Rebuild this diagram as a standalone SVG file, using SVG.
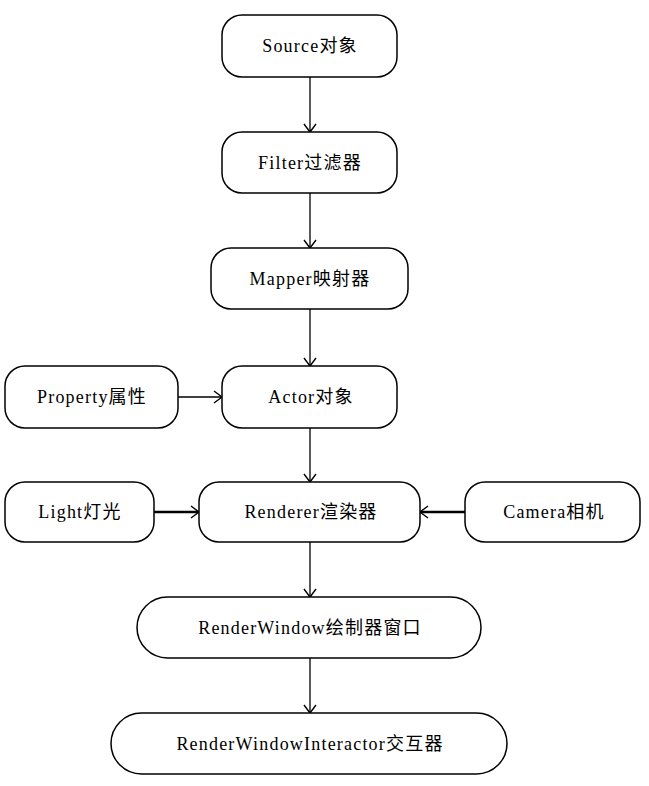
<svg xmlns="http://www.w3.org/2000/svg" width="649" height="786" viewBox="0 0 649 786">
<style>
.box{fill:#fff;stroke:#000;stroke-width:1.5}
.lbl{font-family:"Liberation Serif","Noto Sans CJK SC",serif;font-size:18px;letter-spacing:1.2px;fill:#000;text-anchor:middle}
.edge{stroke:#000;stroke-width:1.3;fill:none}
.thick{stroke-width:2.6}
</style>
<defs>
<marker id="ah" markerUnits="userSpaceOnUse" markerWidth="14" markerHeight="14" refX="10" refY="7" orient="auto">
<path d="M2,1 L10,7 L2,13" fill="none" stroke="#000" stroke-width="1.4"/>
</marker>
</defs>
<rect width="649" height="786" fill="#fff"/>
<g id="connectors">
<line class="edge" x1="310" y1="77" x2="310" y2="132" marker-end="url(#ah)"/>
<line class="edge" x1="310" y1="193" x2="310" y2="248" marker-end="url(#ah)"/>
<line class="edge" x1="310" y1="309" x2="310" y2="366" marker-end="url(#ah)"/>
<line class="edge" x1="178" y1="397" x2="222" y2="397" marker-end="url(#ah)"/>
<line class="edge" x1="310" y1="428" x2="310" y2="482" marker-end="url(#ah)"/>
<line class="edge thick" x1="154" y1="512" x2="199" y2="512" marker-end="url(#ah)"/>
<line class="edge thick" x1="465" y1="512" x2="420" y2="512" marker-end="url(#ah)"/>
<line class="edge" x1="310" y1="542" x2="310" y2="597" marker-end="url(#ah)"/>
<line class="edge" x1="310" y1="658" x2="310" y2="713" marker-end="url(#ah)"/>
</g>
<g id="source"><rect class="box" x="222" y="15" width="175" height="62" rx="20"/><text class="lbl" x="310" y="52">Source对象</text></g>
<g id="filter"><rect class="box" x="222" y="132" width="175" height="61" rx="20"/><text class="lbl" x="310" y="169">Filter过滤器</text></g>
<g id="mapper"><rect class="box" x="211" y="248" width="197" height="61" rx="20"/><text class="lbl" x="310" y="285">Mapper映射器</text></g>
<g id="property"><rect class="box" x="5" y="366" width="173" height="62" rx="20"/><text class="lbl" x="92" y="403">Property属性</text></g>
<g id="actor"><rect class="box" x="222" y="366" width="175" height="62" rx="20"/><text class="lbl" x="311" y="403">Actor对象</text></g>
<g id="light"><rect class="box" x="5" y="482" width="149" height="60" rx="20"/><text class="lbl" x="80" y="518">Light灯光</text></g>
<g id="renderer"><rect class="box" x="199" y="482" width="221" height="60" rx="20"/><text class="lbl" x="311" y="518">Renderer渲染器</text></g>
<g id="camera"><rect class="box" x="465" y="482" width="175" height="60" rx="20"/><text class="lbl" x="554" y="518">Camera相机</text></g>
<g id="renderwindow"><rect class="box" x="137" y="597" width="344" height="61" rx="30.5"/><text class="lbl" x="310" y="634">RenderWindow绘制器窗口</text></g>
<g id="interactor"><rect class="box" x="111" y="713" width="396" height="61" rx="30.5"/><text class="lbl" x="310" y="750">RenderWindowInteractor交互器</text></g>
</svg>
